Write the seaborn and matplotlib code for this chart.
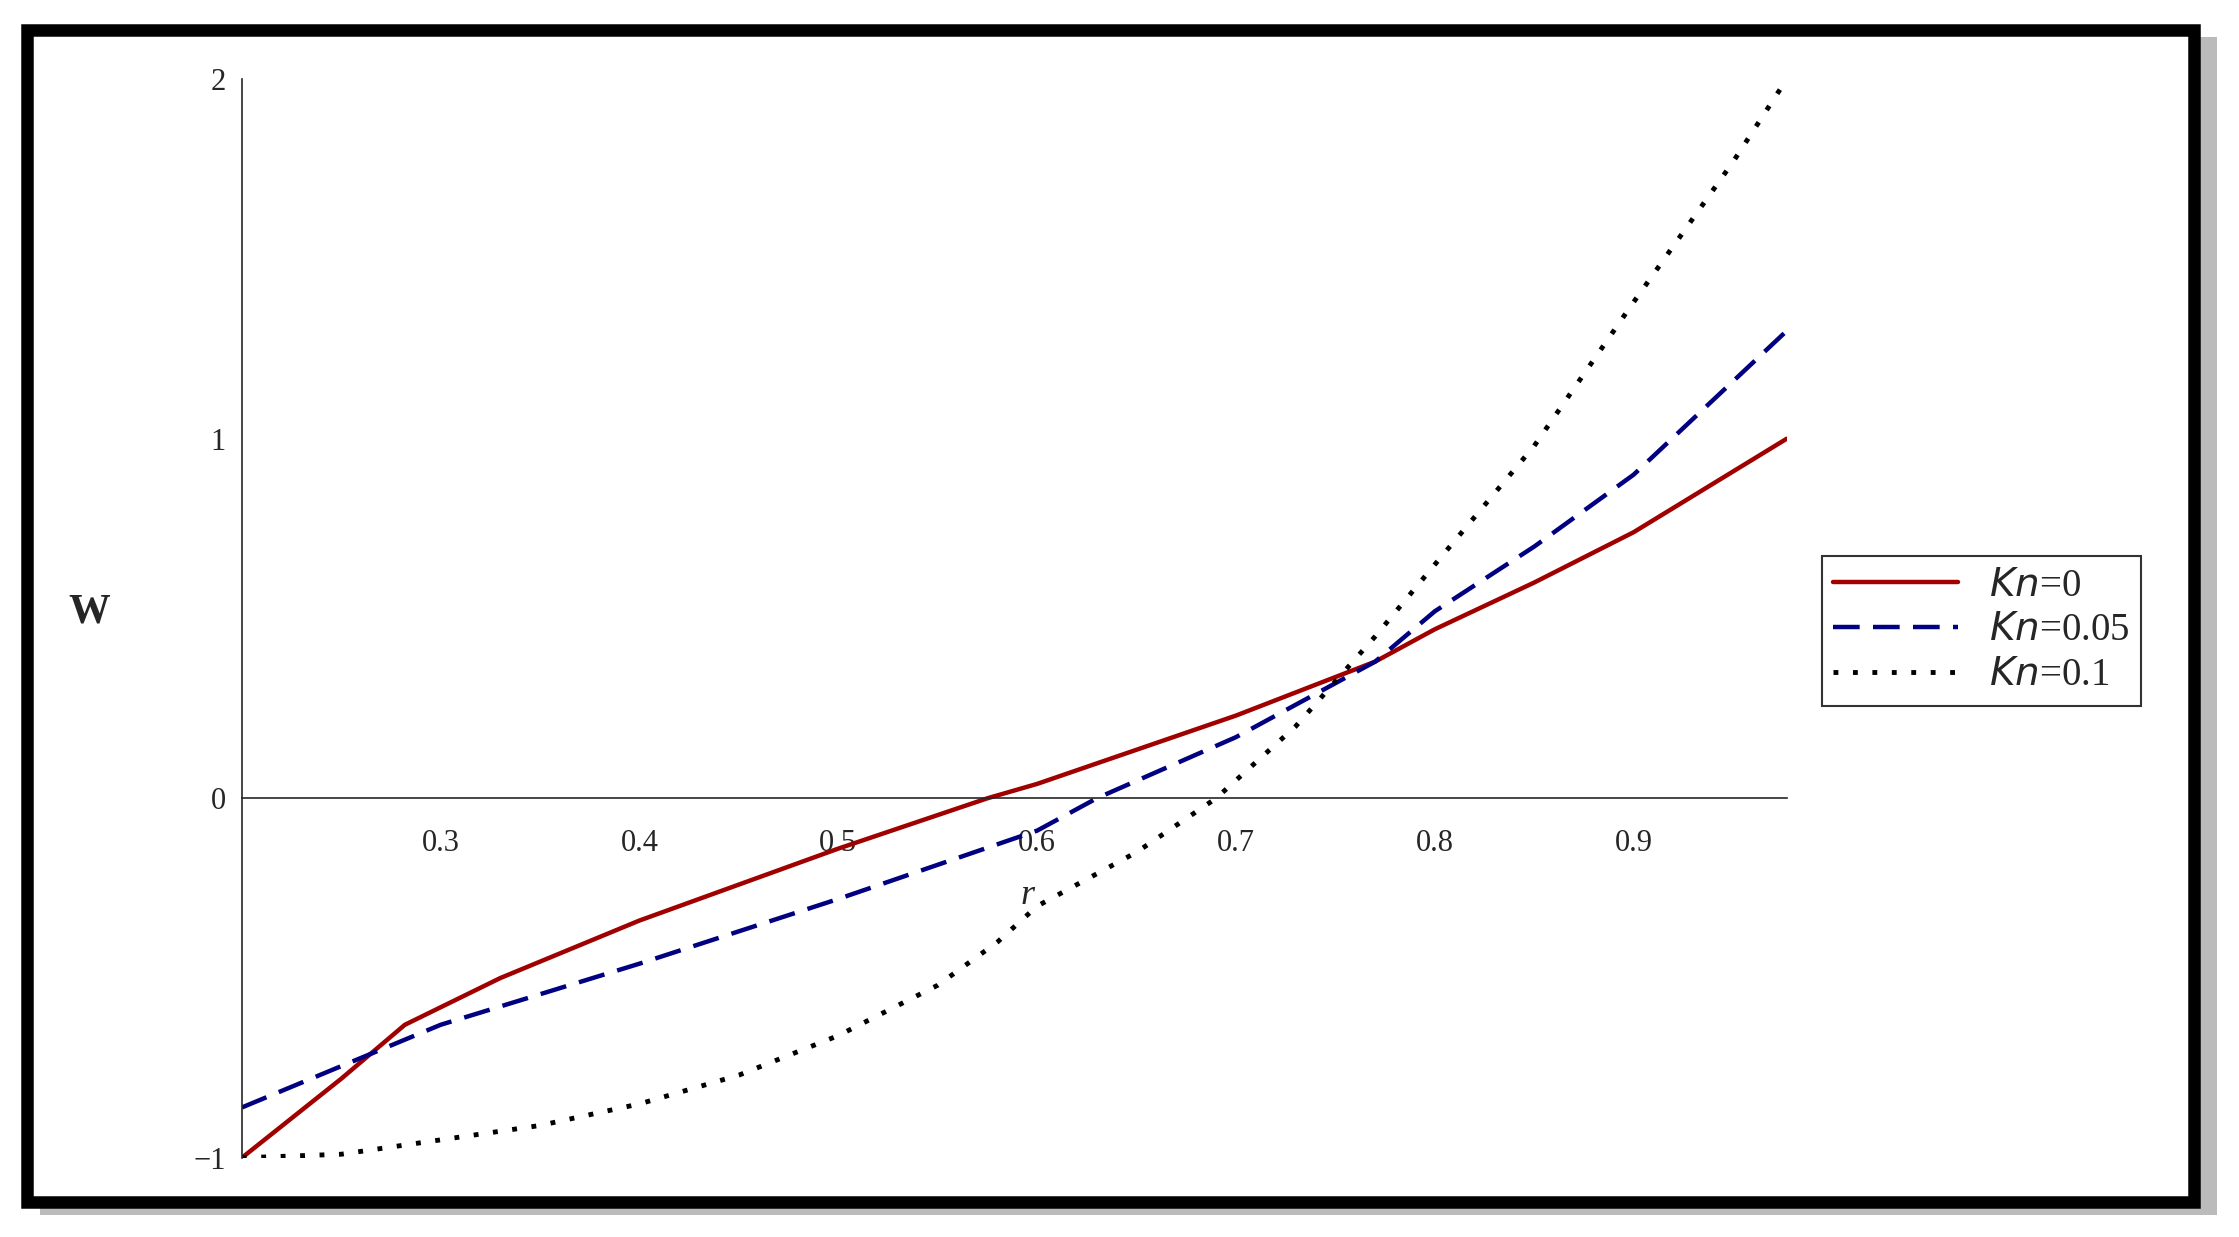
import numpy as np
import pandas as pd
import matplotlib
matplotlib.use("Agg")
import matplotlib.pyplot as plt
import seaborn as sns
from matplotlib.patches import Rectangle
from matplotlib.ticker import MultipleLocator

# values
r_kn0 = [0.2, 0.25, 0.282, 0.33, 0.4, 0.5, 0.575, 0.6, 0.7, 0.77, 0.8, 0.85, 0.9, 0.977]
w_kn0 = [-1.0, -0.78, -0.63, -0.5, -0.34, -0.14, 0.0, 0.04, 0.23, 0.38, 0.47, 0.6, 0.74, 1.0]

r_kn005 = [0.2, 0.3, 0.4, 0.5, 0.6, 0.63, 0.7, 0.77, 0.8, 0.85, 0.9, 0.977]
w_kn005 = [-0.86, -0.63, -0.46, -0.28, -0.09, 0.0, 0.17, 0.38, 0.52, 0.7, 0.9, 1.3]

r_kn01 = [0.2, 0.25, 0.3, 0.35, 0.4, 0.45, 0.5, 0.55, 0.58, 0.6, 0.65, 0.69, 0.73, 0.77, 0.8, 0.85, 0.9, 0.95, 0.977]
w_kn01 = [-1.0, -0.99, -0.95, -0.91, -0.85, -0.77, -0.66, -0.52, -0.4, -0.3, -0.15, 0.0, 0.2, 0.45, 0.65, 0.98, 1.38, 1.77, 2.0]

sns.set_style("white")
plt.rcParams['font.family'] = ['Liberation Serif', 'DejaVu Serif']

fig = plt.figure(figsize=(22.39, 12.37), dpi=100)
# drop shadow and thick frame, kept behind the axes
fig.patches.append(Rectangle((0.018, 0.018), 0.972, 0.952, transform=fig.transFigure,
                             facecolor='#bbbbbb', edgecolor='none', zorder=-3))
fig.patches.append(Rectangle((0.012, 0.028), 0.968, 0.948, transform=fig.transFigure,
                             facecolor='white', edgecolor='black', linewidth=9, zorder=-2))

ax = fig.add_axes([0.108, 0.064, 0.690, 0.872])
ax.set_zorder(2)
ax.set_facecolor('none')

sns.lineplot(x=r_kn0, y=w_kn0, ax=ax, color='#a00000', linewidth=3.2, label='$Kn$=0')
sns.lineplot(x=r_kn005, y=w_kn005, ax=ax, color='#000080', linewidth=3.2,
             linestyle=(0, (6, 3)), label='$Kn$=0.05')
sns.lineplot(x=r_kn01, y=w_kn01, ax=ax, color='black', linewidth=3.5,
             linestyle=(0, (1, 3)), label='$Kn$=0.1')

ax.set_xlim(0.2, 0.977)
ax.set_ylim(-1, 2)
ax.spines['left'].set_position(('data', 0.2))
ax.spines['bottom'].set_position(('data', 0))
ax.spines['top'].set_visible(False)
ax.spines['right'].set_visible(False)
for s in ('left', 'bottom'):
    ax.spines[s].set_linewidth(1.2)

ax.set_xticks([0.3, 0.4, 0.5, 0.6, 0.7, 0.8, 0.9])
ax.xaxis.set_minor_locator(MultipleLocator(0.05))
ax.set_yticks([-1, 0, 1, 2])
ax.yaxis.set_minor_locator(MultipleLocator(0.5))
ax.tick_params(axis='both', which='major', direction='out', length=8, labelsize=22, color='black')
ax.tick_params(axis='both', which='minor', direction='out', length=5, color='black')
ax.tick_params(axis='x', pad=14)

ax.text(0.595, -0.27, 'r', fontsize=26, style='italic', ha='center', va='center')
fig.text(0.04, 0.505, 'W', fontsize=30, fontweight='bold', ha='center', va='center')

leg = ax.legend(loc='upper left', bbox_to_anchor=(1.01, 0.576), fontsize=28,
                frameon=True, fancybox=False, handlelength=3.2, borderpad=0.3,
                labelspacing=0.2)
leg.get_frame().set_edgecolor('black')
leg.get_frame().set_linewidth(1.5)

fig.savefig('out.png', dpi=100)
